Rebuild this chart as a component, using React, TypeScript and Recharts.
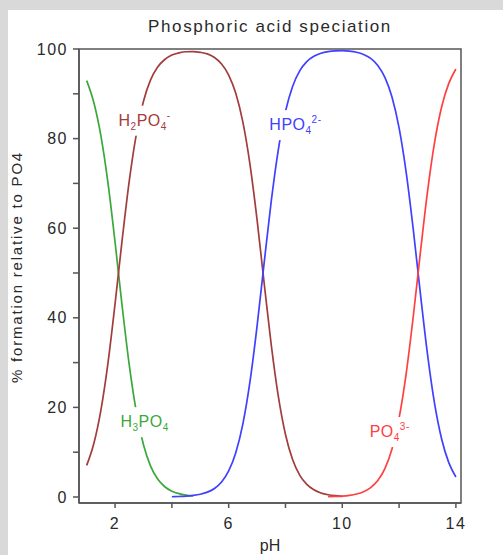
import { LineChart, Line, XAxis, YAxis, ReferenceArea, ReferenceDot } from "recharts";

// pH grid and % of total phosphate for each species
const PH = [
  1, 1.25, 1.5, 1.75, 2, 2.25, 2.5, 2.75, 3, 3.25, 3.5, 3.75, 4, 4.25, 4.5, 4.75,
  5, 5.25, 5.5, 5.75, 6, 6.25, 6.5, 6.75, 7, 7.25, 7.5, 7.75, 8, 8.25, 8.5, 8.75,
  9, 9.25, 9.5, 9.75, 10, 10.25, 10.5, 10.75, 11, 11.25, 11.5, 11.75, 12, 12.25,
  12.5, 12.75, 13, 13.25, 13.5, 13.75, 14,
];

// H3PO4, from pH 1 to 4.75
const H3PO4 = [
  92.95, 88.11, 80.65, 70.1, 56.86, 42.57, 29.42, 18.99, 11.65, 6.9, 4.0, 2.29, 1.3,
  0.74, 0.42, 0.23,
];

// H2PO4-, from pH 1 to 10
const H2PO4 = [
  7.05, 11.89, 19.35, 29.9, 43.14, 57.43, 70.58, 81.01, 88.35, 93.1, 95.98, 97.66,
  98.64, 99.15, 99.39, 99.42, 99.26, 98.92, 98.09, 96.65, 94.19, 90.12, 83.68, 74.26,
  61.86, 47.7, 33.9, 22.38, 13.95, 8.36, 4.88, 2.8, 1.6, 0.9, 0.51, 0.29, 0.16,
];

// HPO4 2-, from pH 4 to 14
const HPO4_START = 4;
const HPO4 = [
  0.06, 0.11, 0.19, 0.35, 0.61, 1.08, 1.91, 3.35, 5.81, 9.88, 16.32, 25.74, 38.14,
  52.3, 66.1, 77.62, 86.05, 91.64, 95.12, 97.2, 98.38, 99.06, 99.42, 99.59, 99.63,
  99.53, 99.28, 98.78, 97.9, 96.34, 93.67, 89.27, 82.39, 72.45, 59.66, 45.41, 31.87,
  20.82, 12.88, 7.68, 4.47,
];

// PO4 3-, from pH 9.5 to 14
const PO4_START = 9.5;
const PO4 = [
  0.07, 0.12, 0.21, 0.38, 0.67, 1.19, 2.09, 3.66, 6.33, 10.73, 17.61, 27.55, 40.34,
  54.59, 68.13, 79.18, 87.12, 92.32, 95.53,
];

const X_TICKS = [2, 4, 6, 8, 10, 12, 14];
const Y_TICKS = [0, 10, 20, 30, 40, 50, 60, 70, 80, 90, 100];
const X_DOMAIN: [number, number] = [0.73, 14.18];
const Y_DOMAIN: [number, number] = [-1.34, 100];

const GREEN = "#3aa83a";
const BROWN = "#a33c3c";
const BLUE = "#4040ff";
const RED = "#ff4040";
const AXIS = "#555";
const TEXT = "#2a2a2a";
const FONT = '"Liberation Sans", Arial, sans-serif';

const data = PH.map((ph, i) => {
  const b = PH.indexOf(HPO4_START);
  const r = PH.indexOf(PO4_START);
  return {
    ph,
    h3: i < H3PO4.length ? H3PO4[i] : null,
    h2: i < H2PO4.length ? H2PO4[i] : null,
    h1: i >= b ? HPO4[i - b] : null,
    p0: i >= r ? PO4[i - r] : null,
  };
});

type Part = [string, "sub" | "sup" | null];

function SpeciesLabel(props: any) {
  const { cx, cy, parts, color, w } = props;
  const shift = { sub: 4, sup: -7 };
  let cur = 0;
  return (
    <g>
      <rect x={cx - w / 2} y={cy - 15} width={w} height={30} fill="#fff" />
      <text x={cx} y={cy + 5} textAnchor="middle" fill={color} fontFamily={FONT} fontSize={16} letterSpacing={0.5}>
        {(parts as Part[]).map(([t, kind], i) => {
          const target = kind ? shift[kind] : 0;
          const dy = target - cur;
          cur = target;
          return (
            <tspan key={i} dy={dy} fontSize={kind ? 10 : 16}>
              {t}
            </tspan>
          );
        })}
      </text>
    </g>
  );
}

export default function App() {
  return (
    <div style={{ position: "absolute", left: 0, top: 0, width: 503, height: 555, background: "#d9d9d9", overflow: "hidden" }}>
      <div style={{ position: "absolute", left: 8, top: 10, width: 495, height: 545, background: "#fff" }}>
        <div
          style={{
            position: "absolute",
            left: 71,
            top: 7,
            width: 382,
            textAlign: "center",
            fontFamily: FONT,
            fontSize: 17,
            lineHeight: "20px",
            letterSpacing: 1.6,
            color: TEXT,
          }}
        >
          Phosphoric acid speciation
        </div>
        <LineChart width={495} height={545} data={data} margin={{ top: 39, right: 42, left: 0, bottom: 0 }}>
          <XAxis
            dataKey="ph"
            type="number"
            domain={X_DOMAIN}
            allowDataOverflow
            ticks={X_TICKS}
            tickFormatter={(v: number) => (v % 4 === 2 ? String(v) : "")}
            height={52}
            tickSize={5}
            tickMargin={10}
            axisLine={{ stroke: AXIS, strokeWidth: 1.5 }}
            tickLine={{ stroke: AXIS, strokeWidth: 1.5 }}
            tick={{ fill: TEXT, fontSize: 16, fontFamily: FONT, letterSpacing: 1.5 }}
            label={{ value: "pH", position: "insideBottom", offset: 4, fill: TEXT, fontSize: 16, fontFamily: FONT }}
          />
          <YAxis
            type="number"
            domain={Y_DOMAIN}
            allowDataOverflow
            ticks={Y_TICKS}
            tickFormatter={(v: number) => (v % 20 === 0 ? String(v) : "")}
            width={71}
            tickSize={6}
            tickMargin={5}
            axisLine={{ stroke: AXIS, strokeWidth: 1.5 }}
            tickLine={{ stroke: AXIS, strokeWidth: 1.5 }}
            tick={{ fill: TEXT, fontSize: 16, fontFamily: FONT, letterSpacing: 1.5 }}
            label={{
              content: ({ viewBox }: any) => {
                const x = viewBox.x + 14;
                const y = viewBox.y + viewBox.height / 2 - 9;
                return (
                  <text
                    x={x}
                    y={y}
                    transform={`rotate(-90 ${x} ${y})`}
                    textAnchor="middle"
                    fill={TEXT}
                    fontFamily={FONT}
                    fontSize={15}
                    letterSpacing={1.8}
                  >
                    % formation relative to PO4
                  </text>
                );
              },
            }}
          />
          <ReferenceArea
            x1={X_DOMAIN[0]}
            x2={X_DOMAIN[1]}
            y1={Y_DOMAIN[0]}
            y2={Y_DOMAIN[1]}
            fill="none"
            fillOpacity={0}
            stroke={AXIS}
            strokeWidth={1.5}
          />
          <Line dataKey="h3" type="monotone" stroke={GREEN} strokeWidth={1.7} dot={false} isAnimationActive={false} />
          <Line dataKey="h2" type="monotone" stroke={BROWN} strokeWidth={1.7} dot={false} isAnimationActive={false} />
          <Line dataKey="h1" type="monotone" stroke={BLUE} strokeWidth={1.7} dot={false} isAnimationActive={false} />
          <Line dataKey="p0" type="monotone" stroke={RED} strokeWidth={1.7} dot={false} isAnimationActive={false} />
          <ReferenceDot
            x={3.04}
            y={84}
            zIndex={1000}
            shape={(p: any) => (
              <SpeciesLabel {...p} color={BROWN} w={58} parts={[["H", null], ["2", "sub"], ["PO", null], ["4", "sub"], ["-", "sup"]]} />
            )}
          />
          <ReferenceDot
            x={8.35}
            y={83}
            zIndex={1000}
            shape={(p: any) => (
              <SpeciesLabel {...p} color={BLUE} w={62} parts={[["HPO", null], ["4", "sub"], ["2-", "sup"]]} />
            )}
          />
          <ReferenceDot
            x={3.04}
            y={16.7}
            zIndex={1000}
            shape={(p: any) => (
              <SpeciesLabel {...p} color={GREEN} w={58} parts={[["H", null], ["3", "sub"], ["PO", null], ["4", "sub"]]} />
            )}
          />
          <ReferenceDot
            x={11.67}
            y={14.5}
            zIndex={1000}
            shape={(p: any) => (
              <SpeciesLabel {...p} color={RED} w={48} parts={[["PO", null], ["4", "sub"], ["3-", "sup"]]} />
            )}
          />
        </LineChart>
      </div>
    </div>
  );
}
